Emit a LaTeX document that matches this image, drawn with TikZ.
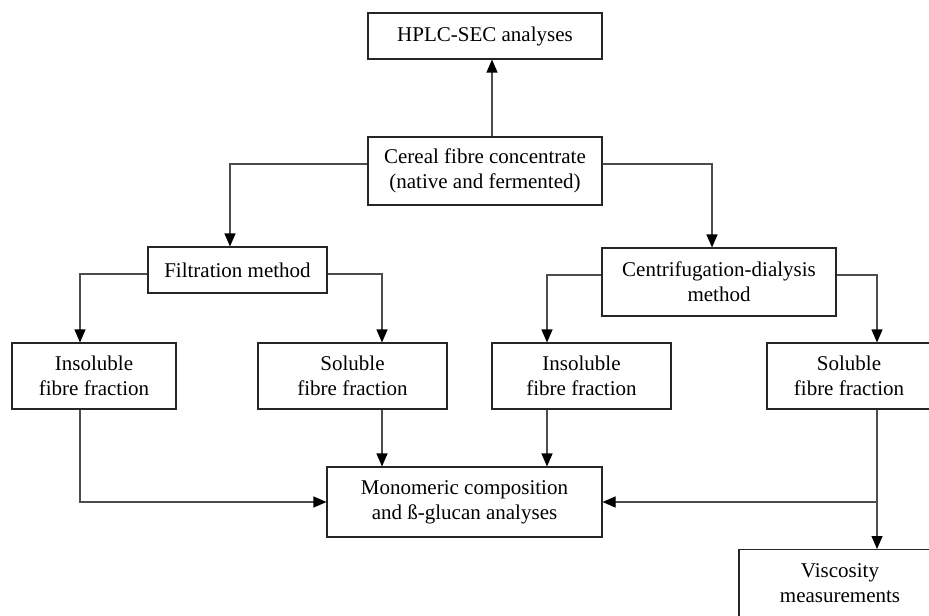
\documentclass[tikz,border=0pt]{standalone}
\usepackage{fontspec}
\setmainfont{Liberation Serif}
\usetikzlibrary{arrows.meta, positioning}

\begin{document}
\begin{tikzpicture}[
    x=0.5pt, y=-0.5pt,
    font=\fontsize{10.5pt}{12.5pt}\selectfont,
    box/.style={draw=black!85, line width=0.55pt, align=center, inner sep=0pt},
    arr/.style={-{Triangle[length=6.5pt,width=5.5pt,color=black]}, line width=0.55pt, draw=black!70},
]
\useasboundingbox (0,0) rectangle (929,615);

% --- Haut ---
\node[box, minimum width=117pt, minimum height=23pt] (hplc) at (485,36) {HPLC-SEC analyses};
\node[box, minimum width=117pt, minimum height=34pt] (cereal) at (485,171) {Cereal fibre concentrate\\(native and fermented)};

% --- Methodes ---
\node[box, minimum width=89.5pt, minimum height=23pt] (filt) at (237.5,270) {Filtration method};
\node[box, minimum width=117pt, minimum height=34pt] (centr) at (719,282) {Centrifugation-dialysis\\method};

% --- Fractions ---
\node[box, minimum width=82pt, minimum height=33pt] (insL) at (94,376) {Insoluble\\fibre fraction};
\node[box, minimum width=94.5pt, minimum height=33pt] (solL) at (352.5,376) {Soluble\\fibre fraction};
\node[box, minimum width=89.5pt, minimum height=33pt] (insR) at (581.5,376) {Insoluble\\fibre fraction};
\node[box, minimum width=82pt, minimum height=33pt] (solR) at (849,376) {Soluble\\fibre fraction};

% --- Analyses ---
\node[box, minimum width=137.5pt, minimum height=35pt] (mono) at (464.5,502) {Monomeric composition\\and \ss-glucan analyses};
\node[box, minimum width=101pt, inner ysep=7pt, anchor=north] (visc) at (840,549) {Viscosity\\measurements};
\coordinate (br) at (877,502);

% --- Liaisons ---
\draw[arr] ([xshift=3.5pt]cereal.north) -- ([xshift=3.5pt]hplc.south);
\draw[arr] ([yshift=3.5pt]cereal.west) -| ([xshift=-3.75pt]filt.north);
\draw[arr] ([yshift=3.5pt]cereal.east) -| ([xshift=-3.5pt]centr.north);
\draw[arr] ([yshift=-2pt]filt.west) -| ([xshift=-7pt]insL.north);
\draw[arr] ([yshift=-2pt]filt.east) -| ([xshift=14.75pt]solL.north);
\draw[arr] ([yshift=3.5pt]centr.west) -| ([xshift=-17.25pt]insR.north);
\draw[arr] ([yshift=3.5pt]centr.east) -| ([xshift=14pt]solR.north);

\draw[arr] ([xshift=-7pt]insL.south) |- (mono.west);
\draw[arr] ([xshift=14.75pt]solL.south) -- ([xshift=14.75pt]solL.south |- mono.north);
\draw[arr] ([xshift=-17.25pt]insR.south) -- ([xshift=-17.25pt]insR.south |- mono.north);
\draw[arr] ([xshift=14pt]solR.south) -- ([xshift=14pt]solR.south |- visc.north);
\draw[arr] (br) -- (mono.east);

\end{tikzpicture}
\end{document}
